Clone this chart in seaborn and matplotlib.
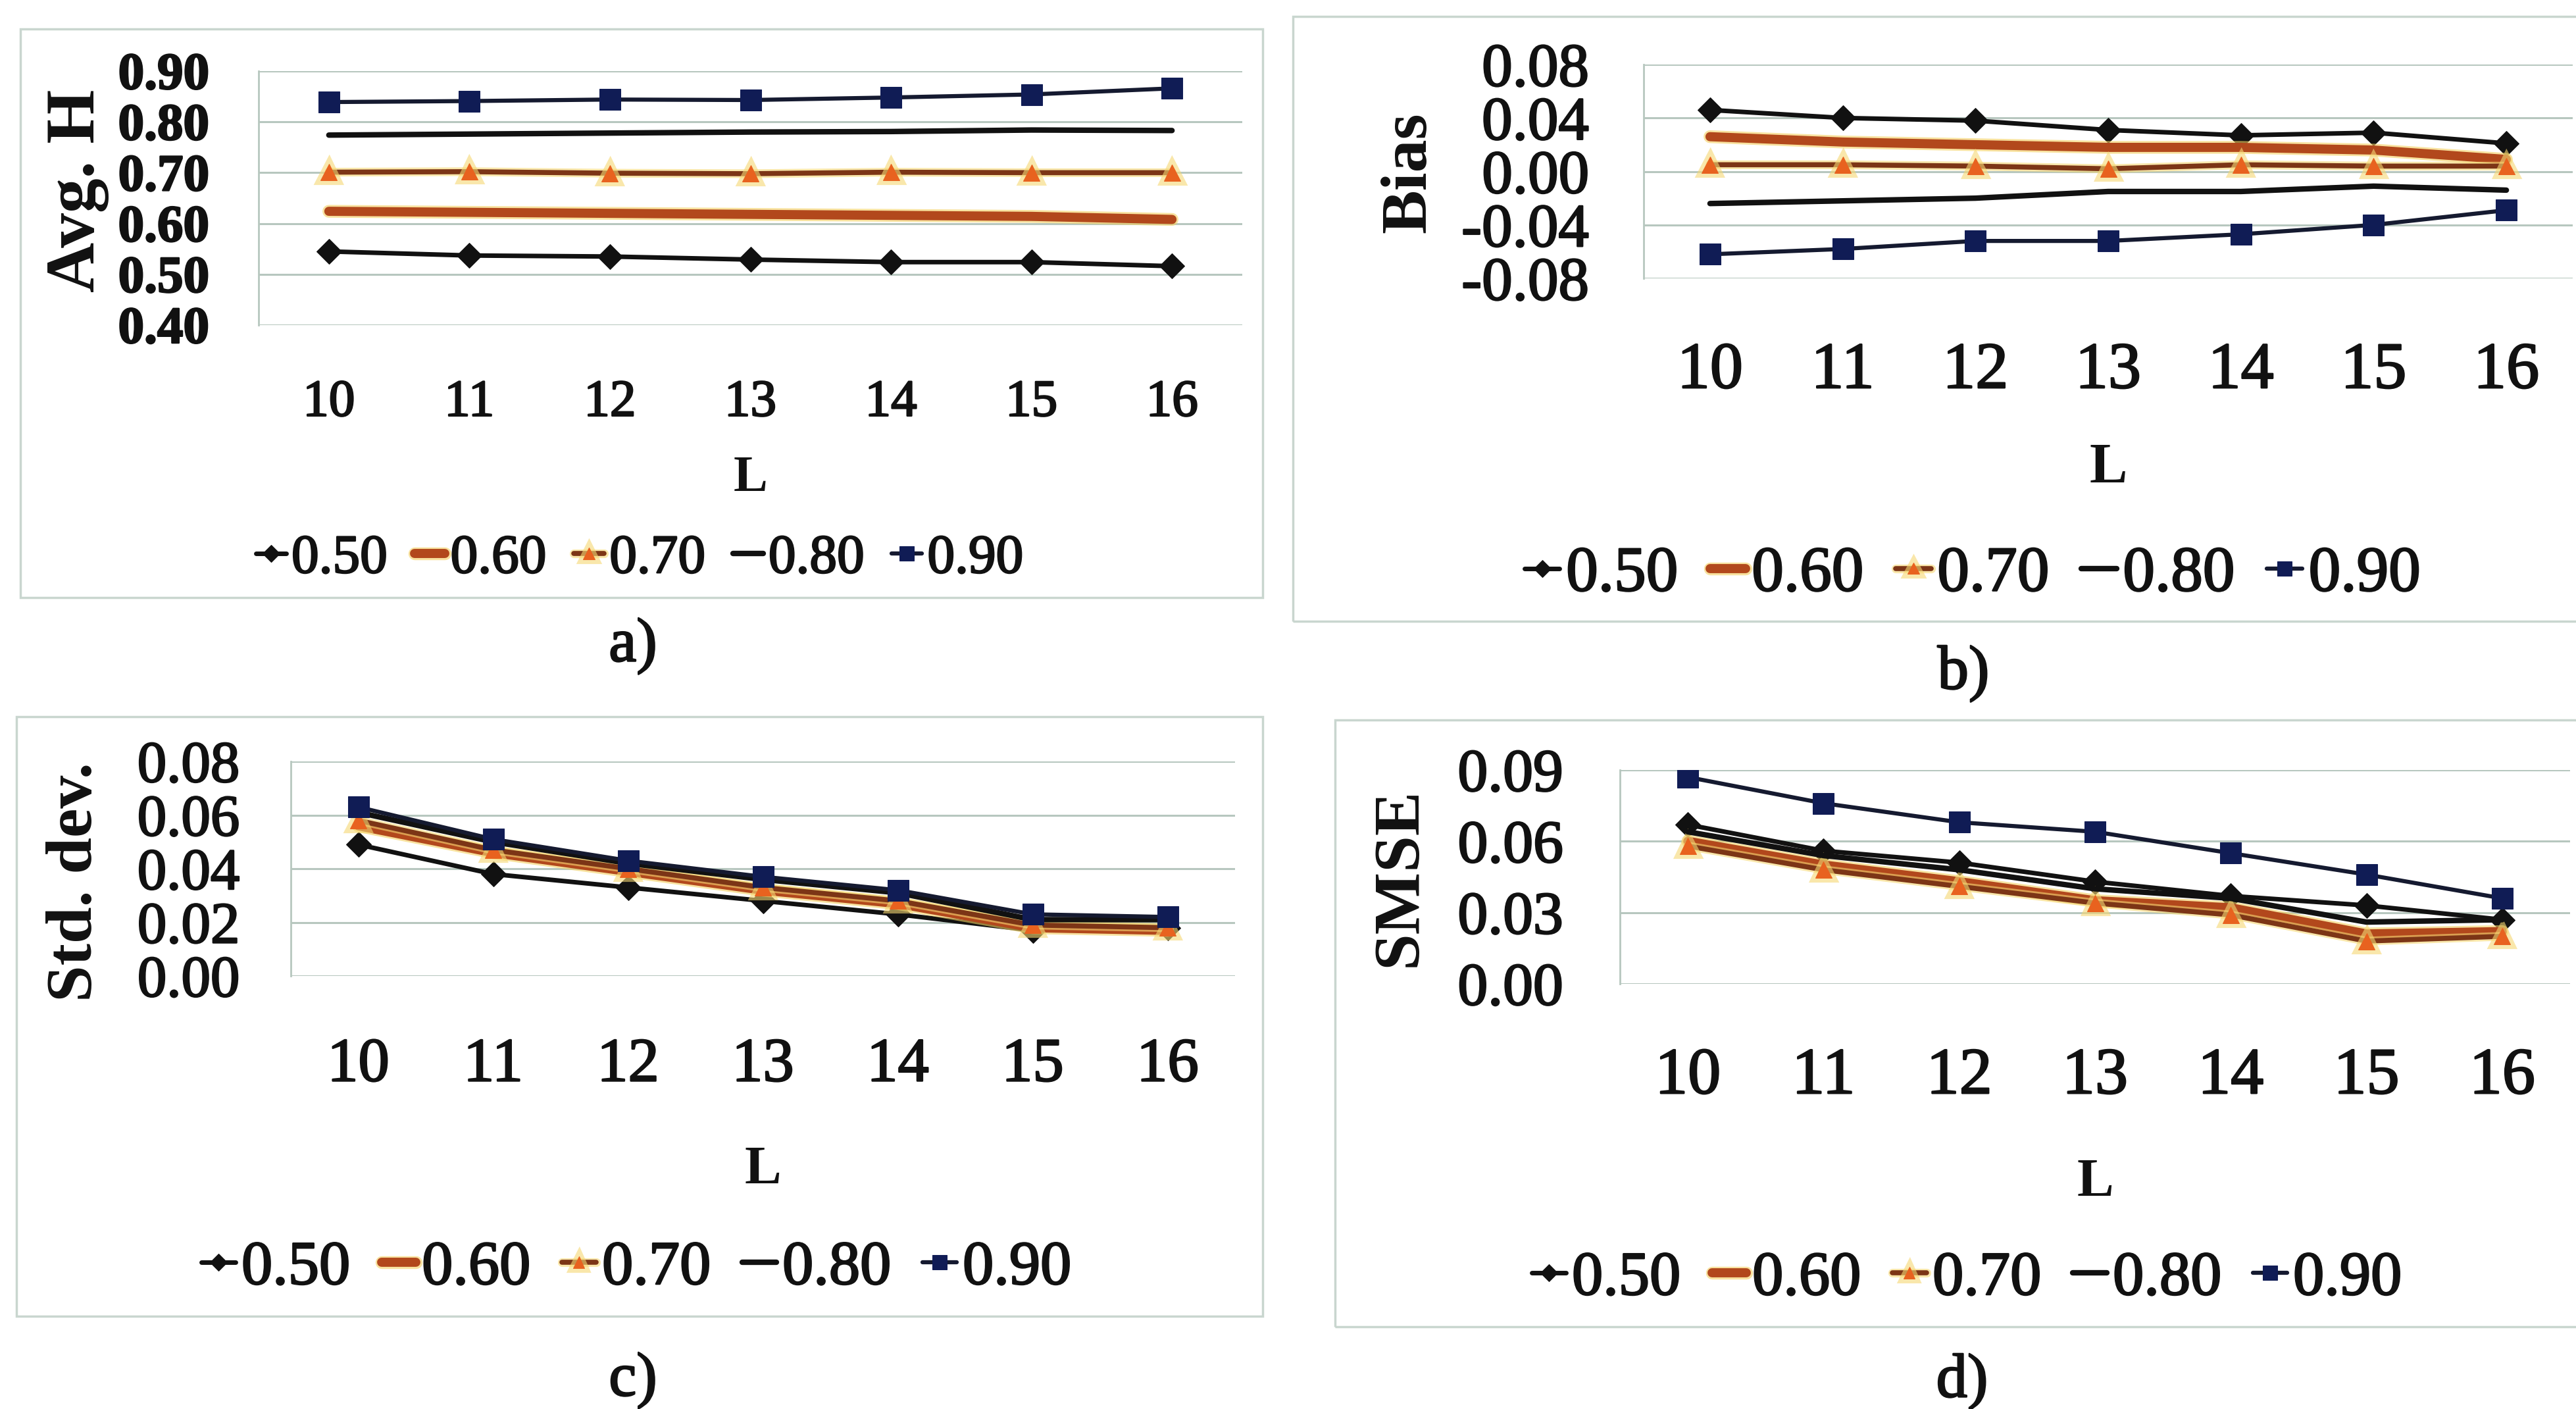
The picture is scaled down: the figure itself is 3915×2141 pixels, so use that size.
import matplotlib
matplotlib.use("Agg")
import matplotlib.pyplot as plt
import matplotlib.patheffects as pe
from matplotlib.patches import Rectangle
from matplotlib.ticker import FixedLocator, FuncFormatter
import pandas as pd
import seaborn as sns

# ---------------------------------------------------------------- data
L_VALUES = [10, 11, 12, 13, 14, 15, 16]
SERIES = ["0.50", "0.60", "0.70", "0.80", "0.90"]

AVG_H_050 = [0.545, 0.537, 0.535, 0.529, 0.524, 0.524, 0.516]
AVG_H_060 = [0.624, 0.622, 0.620, 0.618, 0.616, 0.614, 0.608]
AVG_H_070 = [0.701, 0.702, 0.699, 0.698, 0.701, 0.700, 0.700]
AVG_H_080 = [0.774, 0.776, 0.778, 0.780, 0.781, 0.784, 0.783]
AVG_H_090 = [0.839, 0.841, 0.844, 0.843, 0.848, 0.854, 0.866]

BIAS_050 = [0.046, 0.040, 0.038, 0.031, 0.027, 0.029, 0.021]
BIAS_060 = [0.026, 0.022, 0.020, 0.018, 0.018, 0.016, 0.009]
BIAS_070 = [0.005, 0.005, 0.004, 0.002, 0.005, 0.004, 0.004]
BIAS_080 = [-0.024, -0.022, -0.020, -0.015, -0.015, -0.011, -0.014]
BIAS_090 = [-0.062, -0.058, -0.052, -0.052, -0.047, -0.040, -0.029]

STD_050 = [0.049, 0.038, 0.033, 0.028, 0.023, 0.017, 0.018]
STD_060 = [0.056, 0.046, 0.039, 0.032, 0.027, 0.018, 0.017]
STD_070 = [0.058, 0.047, 0.040, 0.033, 0.028, 0.019, 0.018]
STD_080 = [0.061, 0.050, 0.042, 0.036, 0.031, 0.021, 0.021]
STD_090 = [0.063, 0.051, 0.043, 0.037, 0.032, 0.023, 0.022]

SMSE_050 = [0.067, 0.056, 0.051, 0.043, 0.037, 0.033, 0.027]
SMSE_060 = [0.060, 0.050, 0.043, 0.035, 0.032, 0.021, 0.022]
SMSE_070 = [0.058, 0.048, 0.041, 0.034, 0.029, 0.018, 0.020]
SMSE_080 = [0.064, 0.054, 0.048, 0.040, 0.036, 0.026, 0.027]
SMSE_090 = [0.087, 0.076, 0.068, 0.064, 0.055, 0.046, 0.036]

AVG_H_TICKS = [0.40, 0.50, 0.60, 0.70, 0.80, 0.90]
BIAS_TICKS = [-0.08, -0.04, 0.00, 0.04, 0.08]
STD_TICKS = [0.00, 0.02, 0.04, 0.06, 0.08]
SMSE_TICKS = [0.00, 0.03, 0.06, 0.09]

PANEL_VALUES = {
    "Avg. H": [AVG_H_050, AVG_H_060, AVG_H_070, AVG_H_080, AVG_H_090],
    "Bias": [BIAS_050, BIAS_060, BIAS_070, BIAS_080, BIAS_090],
    "Std. dev.": [STD_050, STD_060, STD_070, STD_080, STD_090],
    "SMSE": [SMSE_050, SMSE_060, SMSE_070, SMSE_080, SMSE_090],
}

# ---------------------------------------------------------------- style
sns.set_style("white")
plt.rcParams["font.family"] = ["Liberation Serif", "DejaVu Serif"]
plt.rcParams["axes.unicode_minus"] = False

FIG_W, FIG_H = 3915, 2141
GRID = "#b7c7bf"
FRAME = "#c9d6cf"
INK = "#111111"
HEAVY = [pe.withStroke(linewidth=1.8, foreground=INK)]

STYLE = {
    "0.50": dict(color=INK, marker="D", lw=5, ms=19, mfc=INK, halo=None),
    "0.60": dict(color="#b2481c", marker=None, lw=10, ms=0, mfc=None, halo="#f4d060"),
    "0.70": dict(color="#7c3516", marker="^", lw=5.5, ms=18, mfc="#e8621f", halo="#f6d873"),
    "0.80": dict(color=INK, marker=None, lw=6, ms=0, mfc=None, halo=None),
    "0.90": dict(color="#151a30", marker="s", lw=4.5, ms=23, mfc="#101c55", halo=None),
}

# pixel layout: axes box (left, top, right, bottom), frame box, text anchors
PANELS = [
    dict(name="Avg. H", ticks=AVG_H_TICKS, cap="a)",
         axes=(393, 108, 1888, 494), frame=(31, 44, 1919, 908),
         ylab=(118, 290), xlab_y=727, leg=(972, 850), capxy=(962, 982),
         tick_fs=57, ytick_fs=57, ytick_bold=True, ylab_fs=76, l_fs=56,
         leg_fs=60, xpad=60, ypad=40),
    dict(name="Bias", ticks=BIAS_TICKS, cap="b)",
         axes=(2498, 98, 3910, 423), frame=(1965, 25, 3990, 944),
         ylab=(2142, 262), xlab_y=712, leg=(2998, 874), capxy=(2984, 1024),
         tick_fs=72, ytick_fs=67, ytick_bold=False, ylab_fs=72, l_fs=62,
         leg_fs=70, xpad=70, ypad=46),
    dict(name="Std. dev.", ticks=STD_TICKS, cap="c)",
         axes=(442, 1157, 1877, 1483), frame=(25, 1089, 1919, 2000),
         ylab=(115, 1340), xlab_y=1778, leg=(967, 1928), capxy=(962, 2098),
         tick_fs=68, ytick_fs=64, ytick_bold=False, ylab_fs=72, l_fs=60,
         leg_fs=68, xpad=68, ypad=42),
    dict(name="SMSE", ticks=SMSE_TICKS, cap="d)",
         axes=(2462, 1170, 3906, 1495), frame=(2029, 1094, 3990, 2016),
         ylab=(2128, 1333), xlab_y=1797, leg=(2989, 1944), capxy=(2982, 2100),
         tick_fs=72, ytick_fs=66, ytick_bold=False, ylab_fs=72, l_fs=60,
         leg_fs=68, xpad=70, ypad=48),
]


def fx(px):
    return px / FIG_W


def fy(py):
    return 1 - py / FIG_H


fig = plt.figure(figsize=(FIG_W / 100, FIG_H / 100), dpi=100)
fig.patch.set_facecolor("white")

for p in PANELS:
    # chart frame
    x0, y0, x1, y1 = p["frame"]
    fig.patches.append(Rectangle((fx(x0), fy(y1)), fx(x1) - fx(x0), fy(y0) - fy(y1),
                                 transform=fig.transFigure, fill=False,
                                 edgecolor=FRAME, lw=2.5, zorder=0))

    l, t, r, b = p["axes"]
    ax = fig.add_axes([fx(l), fy(b), fx(r) - fx(l), fy(t) - fy(b)])
    ax.set_facecolor("none")

    df = pd.DataFrame({"L": L_VALUES})
    for s, vals in zip(SERIES, PANEL_VALUES[p["name"]]):
        st = STYLE[s]
        df[s] = vals
        kw = dict(color=st["color"], lw=st["lw"], label=s, legend=False)
        if st["marker"]:
            kw.update(marker=st["marker"], markersize=st["ms"],
                      markerfacecolor=st["mfc"], markeredgecolor=st["mfc"])
        sns.lineplot(data=df, x="L", y=s, ax=ax, **kw)
        line = ax.get_lines()[-1]
        if st["halo"]:
            line.set_path_effects([pe.Stroke(linewidth=st["lw"] + 4,
                                             foreground=st["halo"], alpha=0.6),
                                   pe.Normal()])

    ticks = p["ticks"]
    ax.set_xlim(L_VALUES[0] - 0.5, L_VALUES[-1] + 0.5)
    ax.set_ylim(ticks[0], ticks[-1])
    ax.yaxis.set_major_locator(FixedLocator(ticks))
    ax.yaxis.set_major_formatter(FuncFormatter(lambda v, _: f"{round(v, 2) + 0.0:.2f}"))
    ax.xaxis.set_major_locator(FixedLocator(L_VALUES))
    ax.xaxis.set_minor_locator(FixedLocator([v + 0.5 for v in [L_VALUES[0] - 1] + L_VALUES]))
    ax.grid(axis="y", color=GRID, lw=2.2)
    ax.set_axisbelow(True)
    for side in ("top", "right", "bottom"):
        ax.spines[side].set_visible(False)
    ax.spines["left"].set_color(GRID)
    ax.spines["left"].set_linewidth(2)

    ax.tick_params(axis="x", which="major", length=0, pad=p["xpad"],
                   labelsize=p["tick_fs"], labelcolor=INK)
    ax.tick_params(axis="x", which="minor", length=24, width=2, color=GRID,
                   direction="out")
    ax.tick_params(axis="y", which="major", length=14, width=2, color=GRID,
                   direction="out", pad=p["ypad"], labelsize=p["ytick_fs"],
                   labelcolor=INK)
    for tl in ax.get_xticklabels() + ax.get_yticklabels():
        tl.set_path_effects(HEAVY)
    if p["ytick_bold"]:
        for tl in ax.get_yticklabels():
            tl.set_fontweight("bold")

    # axis titles
    ax.set_ylabel(p["name"], fontsize=p["ylab_fs"], fontweight="bold", color=INK)
    ax.yaxis.label.set_va("center")
    ax.yaxis.set_label_coords((p["ylab"][0] - l) / (r - l), (b - p["ylab"][1]) / (b - t))
    ax.set_xlabel("L", fontsize=p["l_fs"], fontweight="bold", color=INK)
    ax.xaxis.label.set_va("center")
    ax.xaxis.set_label_coords(0.5, (b - p["xlab_y"]) / (b - t))

    handles, labels = ax.get_legend_handles_labels()
    leg = ax.legend(handles, labels, loc="center",
                    bbox_to_anchor=(fx(p["leg"][0]), fy(p["leg"][1])),
                    bbox_transform=fig.transFigure, ncol=5, frameon=False,
                    fontsize=p["leg_fs"], handlelength=0.55, handletextpad=0.1,
                    columnspacing=0.5, markerscale=0.7, borderpad=0)
    for txt in leg.get_texts():
        txt.set_color(INK)
        txt.set_path_effects(HEAVY)

    fig.text(fx(p["capxy"][0]), fy(p["capxy"][1]), p["cap"], ha="center",
             va="center", fontsize=68, color=INK, path_effects=HEAVY)

fig.savefig("out.png", dpi=100, facecolor="white")
